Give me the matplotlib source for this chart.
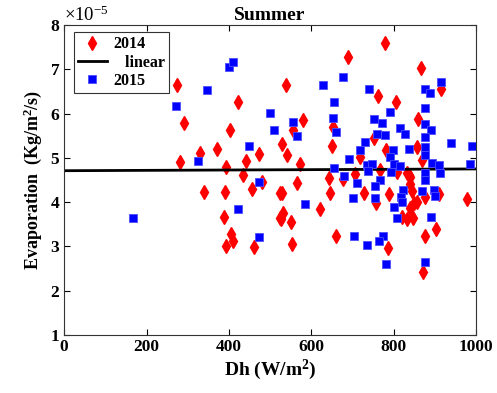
import numpy as np
import matplotlib
matplotlib.use("Agg")
import matplotlib.pyplot as plt
from matplotlib.ticker import ScalarFormatter

# ==============================
# Data (evaporation in 1e-5 Kg/m^2/s)
# ==============================
dh_2014 = [274, 292, 423, 403, 330, 372, 282, 393, 442, 472, 434, 480,
           340, 390, 456, 524, 387, 405, 411, 392, 462, 524,
           539, 689, 780, 867, 915, 763, 805, 581, 555, 652, 651, 528,
           542, 573, 566, 860, 718, 751, 782, 856, 868, 767, 807, 832,
           840, 706, 642, 678,
           528, 531, 526, 551, 554, 620, 646, 660, 729, 756, 789, 787,
           836, 840, 844, 856, 848, 820, 832, 846, 840, 875, 911, 877,
           903, 872, 977]
ev_2014 = [6.64, 5.78, 6.27, 5.64, 5.10, 5.20, 4.91, 4.80, 4.94, 5.09, 4.61, 4.46,
           4.22, 4.22, 4.30, 4.20, 3.67, 3.27, 3.13, 3.01, 2.98, 3.64,
           6.64, 7.27, 7.60, 7.04, 6.55, 6.40, 6.27, 5.85, 5.63, 5.70, 5.27, 5.31,
           5.06, 4.86, 4.44, 5.88, 5.03, 5.44, 5.18, 5.25, 4.95, 4.73, 4.69, 4.65,
           4.57, 4.63, 4.54, 4.52,
           4.21, 3.76, 3.61, 3.54, 3.05, 3.84, 4.21, 3.24, 4.20, 3.97, 4.18, 2.97,
           4.61, 4.42, 4.24, 4.01, 3.97, 3.67, 3.61, 3.63, 3.86, 4.12, 4.18, 3.24,
           3.39, 2.43, 4.08]

dh_2015 = [399, 411, 346, 272, 500, 510, 449, 324, 474, 421, 167, 474,
           629, 676, 739, 914, 876, 887, 656, 876, 791, 652, 555, 565,
           660, 751, 771, 760, 779, 816, 828, 876, 890, 876, 731, 717,
           838, 799, 876, 876, 939, 990, 791, 692, 735, 747, 801, 816,
           892, 910, 985, 654, 737, 793, 876, 913, 680, 766, 712, 755,
           585, 702, 755, 703, 735, 773, 765, 782, 822, 818, 821, 801,
           809, 868, 898, 899, 891, 875, 876]
ev_2015 = [7.06, 7.17, 6.53, 6.18, 6.02, 5.63, 5.27, 4.94, 4.46, 3.84, 3.65, 3.22,
           6.64, 6.82, 6.55, 6.72, 6.55, 6.47, 6.27, 6.12, 6.04, 5.91, 5.82, 5.50,
           5.59, 5.87, 5.78, 5.55, 5.52, 5.67, 5.55, 5.76, 5.64, 5.48, 5.36, 5.18,
           5.21, 5.18, 5.24, 5.06, 5.33, 5.27, 5.03, 4.97, 4.84, 4.86, 4.86, 4.82,
           4.89, 4.84, 4.86, 4.76, 4.71, 4.69, 4.65, 4.65, 4.59, 4.50, 4.43, 4.37,
           3.96, 4.09, 4.09, 3.24, 3.02, 3.24, 3.13, 2.60, 4.27, 4.12, 4.01, 3.90,
           3.65, 4.24, 4.27, 4.14, 3.67, 2.64, 4.50]

# linear fit
fit_intercept = 4.71
fit_slope = 0.00004
fit_range = [0, 1000]

x_ticks = [0, 200, 400, 600, 800, 1000]
y_ticks = [1, 2, 3, 4, 5, 6, 7, 8]

# ==============================
# Plot
# ==============================
plt.rcParams["font.family"] = "Liberation Serif"
plt.rcParams["mathtext.fontset"] = "custom"
plt.rcParams["mathtext.rm"] = "Liberation Serif"
plt.rcParams["mathtext.bf"] = "Liberation Serif:bold"

fig = plt.figure(figsize=(4.97, 3.93), dpi=100)
ax = fig.add_axes([0.129, 0.148, 0.829, 0.788])

scale = 1e-5
ax.plot(dh_2014, np.array(ev_2014) * scale, linestyle="none", marker="d",
        markersize=7.5, color="red", label="2014")
fx = np.array(fit_range)
ax.plot(fx, (fit_intercept + fit_slope * fx) * scale, color="black",
        linewidth=2.0, label="   linear")
ax.plot(dh_2015, np.array(ev_2015) * scale, linestyle="none", marker="s",
        markersize=5.5, color="blue", markeredgecolor="#4d4dff",
        markeredgewidth=0.6, label="2015")

ax.set_xlim(0, 1000)
ax.set_ylim(1 * scale, 8 * scale)
ax.set_xticks(x_ticks)
ax.set_yticks(np.array(y_ticks) * scale)

fmt = ScalarFormatter(useMathText=True)
fmt.set_powerlimits((0, 0))
ax.yaxis.set_major_formatter(fmt)
ax.yaxis.get_offset_text().set_fontsize(13.5)

ax.tick_params(direction="in", top=True, right=True, length=4, width=0.8,
               labelsize=12.5, pad=3)
for lab in ax.get_xticklabels() + ax.get_yticklabels():
    lab.set_fontweight("bold")
for sp in ax.spines.values():
    sp.set_linewidth(0.8)
    sp.set_color("#333333")

ax.set_title("Summer", fontsize=14, fontweight="bold", pad=4)
ax.set_xlabel("Dh (W/m$\\mathbf{^2}$)", fontsize=14, fontweight="bold", labelpad=2)
ax.set_ylabel("Evaporation  (Kg/m$\\mathbf{^2}$/s)", fontsize=13,
              fontweight="bold", labelpad=4)

leg = ax.legend(loc="upper left", fancybox=False, edgecolor="#333333",
                framealpha=1, prop={"weight": "bold", "size": 11.5},
                handlelength=1.8, borderpad=0.25, labelspacing=0.15,
                handletextpad=0.4, borderaxespad=0,
                bbox_to_anchor=(0.024, 0.977))
leg.get_frame().set_linewidth(0.8)

fig.savefig("out.png", dpi=100)
